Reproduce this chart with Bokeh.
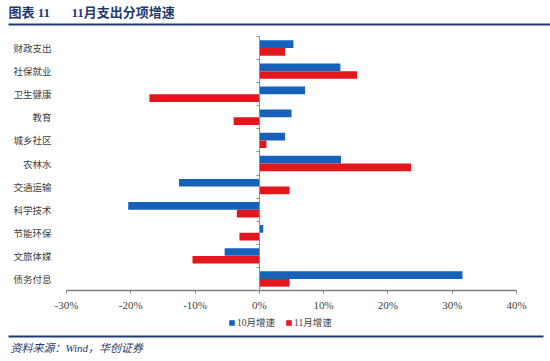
from bokeh.plotting import figure
from bokeh.models import (ColumnDataSource, Range1d, NumeralTickFormatter, FixedTicker,
                          Legend, LegendItem, LinearAxis)
from bokeh.core.properties import value
from bokeh.embed import file_html
from bokeh.resources import INLINE

categories = ["财政支出", "社保就业", "卫生健康", "教育", "城乡社区", "农林水",
              "交通运输", "科学技术", "节能环保", "文旅体媒", "债务付息"]
oct_growth = [0.053, 0.126, 0.071, 0.050, 0.040, 0.127, -0.125, -0.204, 0.006, -0.054, 0.316]
nov_growth = [0.040, 0.152, -0.171, -0.040, 0.011, 0.236, 0.047, -0.035, -0.031, -0.104, 0.047]
x_ticks = [-0.3, -0.2, -0.1, 0.0, 0.1, 0.2, 0.3, 0.4]
series_names = ["10月增速", "11月增速"]
title_label = "图表 11"
title_text = "11月支出分项增速"
source_text = "资料来源：Wind，华创证券"

BLUE = "#1661BA"
RED = "#E3151D"
NAVY = "#1F3B6C"
GRAY = "#8C8C8C"
CJK = "'Liberation Serif', 'Noto Sans CJK SC'"

# canvas / chart-area geometry (pixels, canvas origin top-left)
W, H = 550, 361
CL, CR, CT, CB = 66, 516, 36, 290
n = len(categories)
X0, X1 = x_ticks[0], x_ticks[-1]
Y0, Y1 = -0.5, n - 0.5
SX = (X1 - X0) / (CR - CL)
SY = (Y1 - Y0) / (CB - CT)


def px(fx):
    return X0 + (fx - CL) * SX


def py(fy):
    return Y0 + (CB - fy) * SY


ypos = [n - 1 - i for i in range(n)]
src = ColumnDataSource(dict(y_oct=[y + 0.167 for y in ypos], y_nov=[y - 0.167 for y in ypos],
                            oct=oct_growth, nov=nov_growth))

p = figure(width=W, height=H, x_range=Range1d(px(0), px(W)), y_range=Range1d(py(H), py(0)),
           output_backend="svg", toolbar_location=None, x_axis_location=None,
           y_axis_location=None, min_border=0)
p.min_border_left = p.min_border_right = p.min_border_top = p.min_border_bottom = 0
p.grid.visible = False
p.outline_line_color = None

r_oct = p.hbar(y="y_oct", right="oct", left=0, height=0.333, source=src,
               fill_color=BLUE, line_color=None)
r_nov = p.hbar(y="y_nov", right="nov", left=0, height=0.333, source=src,
               fill_color=RED, line_color=None)

# category axis
yax = LinearAxis(fixed_location=X0, ticker=FixedTicker(ticks=ypos),
                 major_label_overrides={y: c for y, c in zip(ypos, categories)},
                 axis_line_color=None, major_tick_line_color=None, minor_tick_line_color=None,
                 major_label_standoff=9, major_label_text_font="Noto Sans CJK SC",
                 major_label_text_font_size="9.5px", major_label_text_color="#404040")
p.add_layout(yax, "left")

# zero line with boundary ticks
bounds = [k + 0.5 for k in range(-1, n)]
zax = LinearAxis(fixed_location=0, ticker=FixedTicker(ticks=bounds), bounds=(Y0, Y1),
                 major_label_overrides={b: "" for b in bounds},
                 axis_line_color=GRAY, major_tick_line_color=GRAY, major_tick_in=0,
                 major_tick_out=3, minor_tick_line_color=None)
p.add_layout(zax, "left")

# value axis
xax = LinearAxis(fixed_location=Y0, ticker=FixedTicker(ticks=x_ticks), bounds=(X0, X1),
                 formatter=NumeralTickFormatter(format="0%"),
                 axis_line_color="#7F7F7F", axis_line_width=1.5,
                 major_tick_line_color="#7F7F7F", major_tick_in=0, major_tick_out=3,
                 minor_tick_line_color=None, major_label_standoff=5,
                 major_label_text_font="Liberation Serif", major_label_text_font_size="11px",
                 major_label_text_color="#404040")
p.add_layout(xax, "below")

legend = Legend(items=[LegendItem(label=series_names[0], renderers=[r_oct]),
                       LegendItem(label=series_names[1], renderers=[r_nov])],
                orientation="horizontal", location=(228, H - 329),
                glyph_width=7, glyph_height=7, label_standoff=2, spacing=10,
                padding=0, margin=0, border_line_color=None, background_fill_alpha=0,
                label_text_font=CJK, label_text_font_size="9.5px",
                label_text_color="#404040", label_height=10)
p.add_layout(legend, "center")

# header
p.text(x=[px(8), px(71)], y=[py(4), py(4)], text=[title_label, title_text],
       text_font=value(CJK), text_font_style="bold", text_font_size="13px",
       text_color=NAVY, text_baseline="top")
p.segment(x0=[px(8)], y0=[py(24)], x1=[px(W)], y1=[py(24)], line_color=NAVY, line_width=2)
# footer
p.segment(x0=[px(8)], y0=[py(336)], x1=[px(543)], y1=[py(336)], line_color=NAVY, line_width=2)
p.text(x=[px(10)], y=[py(347)], text=[source_text], text_font=value(CJK),
       text_font_style="italic", text_font_size="11px", text_color=NAVY,
       text_baseline="middle")

open("out.html", "w").write(file_html(p, INLINE))
